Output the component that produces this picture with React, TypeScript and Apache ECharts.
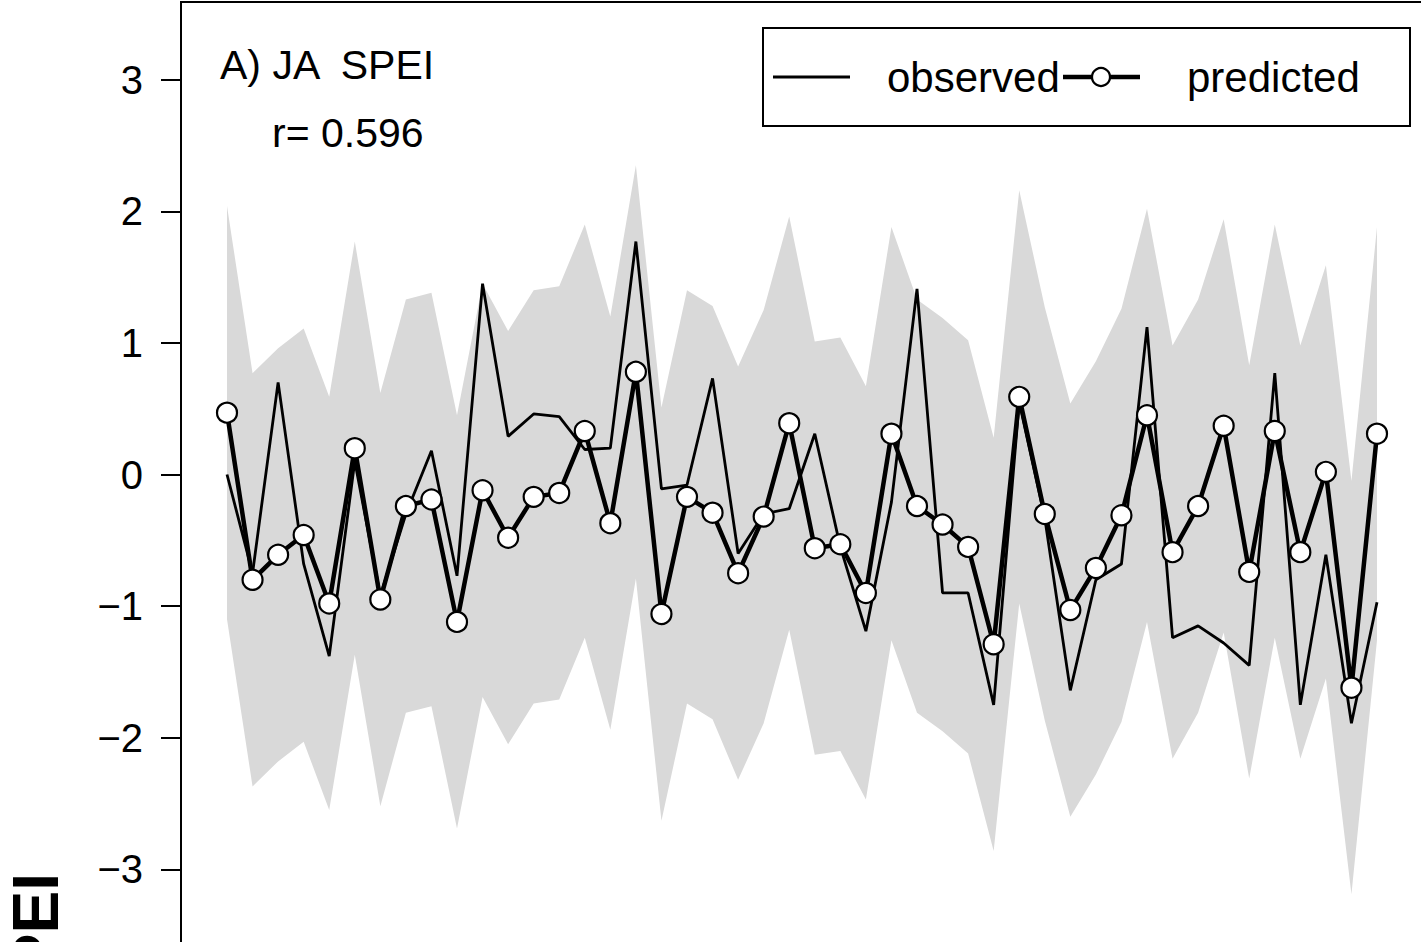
import React, { useEffect, useRef } from "react";
import * as echarts from "echarts";

const FONT = '"Liberation Sans", Arial, Helvetica, sans-serif';

// values (46 consecutive time steps)
const observed = [
  0.0, -0.75, 0.7, -0.68, -1.38, 0.1, -0.92, -0.3, 0.18, -0.77, 1.45, 0.29, 0.46, 0.44, 0.19, 0.2,
  1.77, -0.11, -0.08, 0.73, -0.6, -0.3, -0.26, 0.31, -0.55, -1.19, -0.21, 1.41, -0.9, -0.9, -1.75,
  0.55, -0.33, -1.64, -0.8, -0.68, 1.12, -1.24, -1.15, -1.28, -1.45, 0.77, -1.75, -0.61, -1.89, -0.97,
];
const predicted = [
  0.47, -0.8, -0.61, -0.46, -0.98, 0.2, -0.95, -0.24, -0.19, -1.12, -0.12, -0.48, -0.17, -0.14, 0.33,
  -0.37, 0.78, -1.06, -0.17, -0.29, -0.75, -0.32, 0.39, -0.56, -0.53, -0.9, 0.31, -0.24, -0.38, -0.55,
  -1.29, 0.59, -0.3, -1.03, -0.71, -0.31, 0.45, -0.59, -0.24, 0.37, -0.74, 0.33, -0.59, 0.02, -1.62, 0.31,
];
const upperBand = [
  2.04, 0.77, 0.96, 1.11, 0.59, 1.77, 0.62, 1.33, 1.38, 0.45, 1.45, 1.09, 1.4, 1.43, 1.9, 1.2, 2.35,
  0.51, 1.4, 1.28, 0.82, 1.25, 1.96, 1.01, 1.04, 0.67, 1.88, 1.33, 1.19, 1.02, 0.28, 2.16, 1.27, 0.54,
  0.86, 1.26, 2.02, 0.98, 1.33, 1.94, 0.83, 1.9, 0.98, 1.59, -0.05, 1.88,
];
const lowerBand = [
  -1.1, -2.37, -2.18, -2.03, -2.55, -1.37, -2.52, -1.81, -1.76, -2.69, -1.69, -2.05, -1.74, -1.71,
  -1.24, -1.94, -0.79, -2.63, -1.74, -1.86, -2.32, -1.89, -1.18, -2.13, -2.1, -2.47, -1.26, -1.81,
  -1.95, -2.12, -2.86, -0.98, -1.87, -2.6, -2.28, -1.88, -1.12, -2.16, -1.81, -1.2, -2.31, -1.24,
  -2.16, -1.55, -3.19, -1.26,
];
const yTicks = [-3, -2, -1, 0, 1, 2, 3];
const panelTitle = "A) JA  SPEI";
const corrText = "r= 0.596";
const yAxisTitle = "SPEI";
const legendNames = ["observed", "predicted"];

export default function App() {
  const ref = useRef<HTMLDivElement>(null);

  useEffect(() => {
    document.body.style.margin = "0";
    if (!ref.current) return;
    const chart = echarts.init(ref.current, null, { renderer: "svg" });
    const idx = observed.map((_, i) => i);

    chart.setOption({
      animation: false,
      backgroundColor: "#fff",
      grid: {
        left: 181,
        top: 2,
        width: 1242,
        height: 945,
        outerBoundsMode: "none",
        containLabel: false,
        show: true,
        borderColor: "#000",
        borderWidth: 2,
        backgroundColor: "transparent",
      },
      xAxis: {
        type: "value",
        min: -1.8,
        max: 46.8,
        show: false,
      },
      yAxis: {
        type: "value",
        min: -3.59,
        max: 3.59,
        axisLine: { show: true, onZero: false, lineStyle: { color: "#000", width: 2 } },
        axisTick: {
          show: true,
          inside: false,
          length: 20,
          customValues: yTicks,
          lineStyle: { color: "#000", width: 2 },
        },
        axisLabel: {
          customValues: yTicks,
          margin: 38,
          color: "#000",
          fontSize: 40,
          fontFamily: FONT,
          formatter: (v: number) => String(v).replace("-", "\u2212"),
        },
        splitLine: { show: false },
      },
      series: [
        {
          name: "band",
          type: "custom",
          data: idx.map((i) => [i, lowerBand[i], upperBand[i]]),
          encode: { x: 0, y: [1, 2] },
          silent: true,
          z: 1,
          renderItem: (params: any, api: any) => {
            if (params.dataIndex !== 0) return null;
            const pts: number[][] = [];
            for (let i = 0; i < upperBand.length; i++) pts.push(api.coord([i, upperBand[i]]));
            for (let i = lowerBand.length - 1; i >= 0; i--) pts.push(api.coord([i, lowerBand[i]]));
            return {
              type: "polygon",
              shape: { points: pts },
              style: { fill: "#d9d9d9", stroke: "none" },
              silent: true,
            };
          },
        },
        {
          name: legendNames[0],
          type: "line",
          data: idx.map((i) => [i, observed[i]]),
          symbol: "none",
          lineStyle: { color: "#000", width: 2.8 },
          itemStyle: { color: "#000" },
          z: 2,
        },
        {
          name: legendNames[1],
          type: "line",
          data: idx.map((i) => [i, predicted[i]]),
          symbol: "circle",
          symbolSize: 20,
          showSymbol: true,
          lineStyle: { color: "#000", width: 4.5 },
          itemStyle: { color: "#fff", borderColor: "#000", borderWidth: 2.2 },
          z: 3,
        },
      ],
      graphic: [
        {
          type: "text",
          left: 220,
          top: 44,
          z: 10,
          style: { text: panelTitle, font: `41px ${FONT}`, fill: "#000" },
        },
        {
          type: "text",
          left: 272,
          top: 112,
          z: 10,
          style: { text: corrText, font: `41px ${FONT}`, fill: "#000" },
        },
        {
          type: "group",
          z: 10,
          children: [
            {
              type: "rect",
              shape: { x: 763, y: 28, width: 647, height: 98 },
              style: { fill: "#fff", stroke: "#000", lineWidth: 2 },
            },
            {
              type: "line",
              shape: { x1: 773, y1: 77, x2: 850, y2: 77 },
              style: { stroke: "#000", lineWidth: 2.8 },
            },
            {
              type: "text",
              x: 887,
              y: 77,
              style: {
                text: legendNames[0],
                font: `42px ${FONT}`,
                fill: "#000",
                textVerticalAlign: "middle",
              },
            },
            {
              type: "line",
              shape: { x1: 1063, y1: 77, x2: 1140, y2: 77 },
              style: { stroke: "#000", lineWidth: 4.5 },
            },
            {
              type: "circle",
              shape: { cx: 1101, cy: 77, r: 9 },
              style: { fill: "#fff", stroke: "#000", lineWidth: 2.2 },
            },
            {
              type: "text",
              x: 1187,
              y: 77,
              style: {
                text: legendNames[1],
                font: `42px ${FONT}`,
                fill: "#000",
                textVerticalAlign: "middle",
              },
            },
          ],
        },
        {
          type: "text",
          x: 36,
          y: 873,
          rotation: Math.PI / 2,
          style: {
            text: yAxisTitle,
            font: `bold 64px ${FONT}`,
            fill: "#000",
            textAlign: "right",
            textVerticalAlign: "middle",
          },
        },
      ],
    });

    return () => chart.dispose();
  }, []);

  return <div ref={ref} style={{ width: 1421, height: 942 }} />;
}
